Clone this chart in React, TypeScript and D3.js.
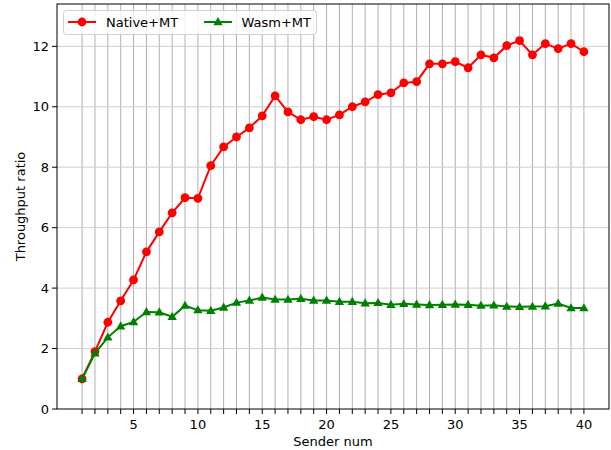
import React from 'react';
import * as d3 from 'd3';

const senders = d3.range(1, 41);
const nativeMT = [1.0, 1.9, 2.87, 3.58, 4.27, 5.2, 5.86, 6.49, 6.99, 6.97,
  8.05, 8.67, 9.0, 9.3, 9.7, 10.36, 9.83, 9.57, 9.67, 9.57,
  9.73, 10.0, 10.16, 10.4, 10.46, 10.79, 10.83, 11.42, 11.42, 11.49,
  11.29, 11.72, 11.62, 12.02, 12.19, 11.72, 12.09, 11.92, 12.09, 11.82];
const wasmMT = [1.0, 1.84, 2.37, 2.74, 2.88, 3.21, 3.2, 3.05, 3.42, 3.27,
  3.25, 3.36, 3.52, 3.59, 3.69, 3.62, 3.62, 3.65, 3.59, 3.59,
  3.55, 3.55, 3.5, 3.51, 3.45, 3.48, 3.46, 3.44, 3.45, 3.46,
  3.45, 3.42, 3.43, 3.39, 3.38, 3.39, 3.4, 3.49, 3.34, 3.34];
const yTicks = [0, 2, 4, 6, 8, 10, 12];
const xLabelTicks = [5, 10, 15, 20, 25, 30, 35, 40];

const W = 611, H = 450;
const m = { l: 57, r: 2, t: 4, b: 41 };
const font = 'DejaVu Sans, sans-serif';

export default function App() {
  const x = d3.scaleLinear().domain([-0.95, 41.95]).range([m.l, W - m.r]);
  const y = d3.scaleLinear().domain([0, 13.4]).range([H - m.b, m.t]);
  const line = d3.line<number>().x((_, i) => x(senders[i])).y(d => y(d));
  const tri = d3.symbol().type(d3.symbolTriangle).size(38)();

  return (
    <svg width={W} height={H} style={{ position: 'absolute', left: 0, top: 0, background: '#fff' }}>
      <rect x={m.l} y={m.t} width={W - m.l - m.r} height={H - m.t - m.b} fill="#fff" />
      {/* grid */}
      {senders.map(s => (
        <line key={'gx' + s} x1={x(s)} x2={x(s)} y1={m.t} y2={H - m.b} stroke="#b0b0b0" strokeWidth={1} />
      ))}
      {yTicks.slice(1).map(t => (
        <line key={'gy' + t} x1={m.l} x2={W - m.r} y1={y(t)} y2={y(t)} stroke="#cfcfcf" strokeWidth={1} />
      ))}
      {/* series */}
      <path d={line(nativeMT) || ''} fill="none" stroke="#ff0000" strokeWidth={2} />
      {nativeMT.map((v, i) => (
        <circle key={'n' + i} cx={x(senders[i])} cy={y(v)} r={4.4} fill="#ff0000" />
      ))}
      <path d={line(wasmMT) || ''} fill="none" stroke="#008000" strokeWidth={2} />
      {wasmMT.map((v, i) => (
        <path key={'w' + i} d={tri || ''} transform={`translate(${x(senders[i])},${y(v) + 0.5})`} fill="#008000" />
      ))}
      {/* frame */}
      <rect x={m.l} y={m.t} width={W - m.l - m.r} height={H - m.t - m.b} fill="none" stroke="#000" strokeWidth={1} />
      {/* x ticks */}
      {senders.map(s => (
        <line key={'tx' + s} x1={x(s)} x2={x(s)} y1={H - m.b} y2={H - m.b + 5} stroke="#000" />
      ))}
      {xLabelTicks.map(t => (
        <text key={'lx' + t} x={x(t)} y={H - m.b + 20} textAnchor="middle" fontFamily={font} fontSize={13}>{t}</text>
      ))}
      {/* y ticks */}
      {yTicks.map(t => (
        <g key={'ty' + t}>
          <line x1={m.l - 5} x2={m.l} y1={y(t)} y2={y(t)} stroke="#000" />
          <text x={m.l - 8} y={y(t)} dy="0.35em" textAnchor="end" fontFamily={font} fontSize={13}>{t}</text>
        </g>
      ))}
      <text x={(m.l + W - m.r) / 2} y={H - 4} textAnchor="middle" fontFamily={font} fontSize={13}>Sender num</text>
      <text transform={`translate(25,${(m.t + H - m.b) / 2}) rotate(-90)`} textAnchor="middle" fontFamily={font} fontSize={13}>Throughput ratio</text>
      {/* legend */}
      <g>
        <rect x={63.5} y={10.5} width={253} height={24} rx={3} fill="#fff" fillOpacity={0.8} stroke="#d0d0d0" />
        <line x1={68} x2={96} y1={22} y2={22} stroke="#ff0000" strokeWidth={2} />
        <circle cx={82} cy={22} r={4.4} fill="#ff0000" />
        <text x={106} y={22} dy="0.35em" fontFamily={font} fontSize={13}>Native+MT</text>
        <line x1={204} x2={232} y1={22} y2={22} stroke="#008000" strokeWidth={2} />
        <path d={tri || ''} transform="translate(218,22.5)" fill="#008000" />
        <text x={241.5} y={22} dy="0.35em" fontFamily={font} fontSize={13}>Wasm+MT</text>
      </g>
    </svg>
  );
}
